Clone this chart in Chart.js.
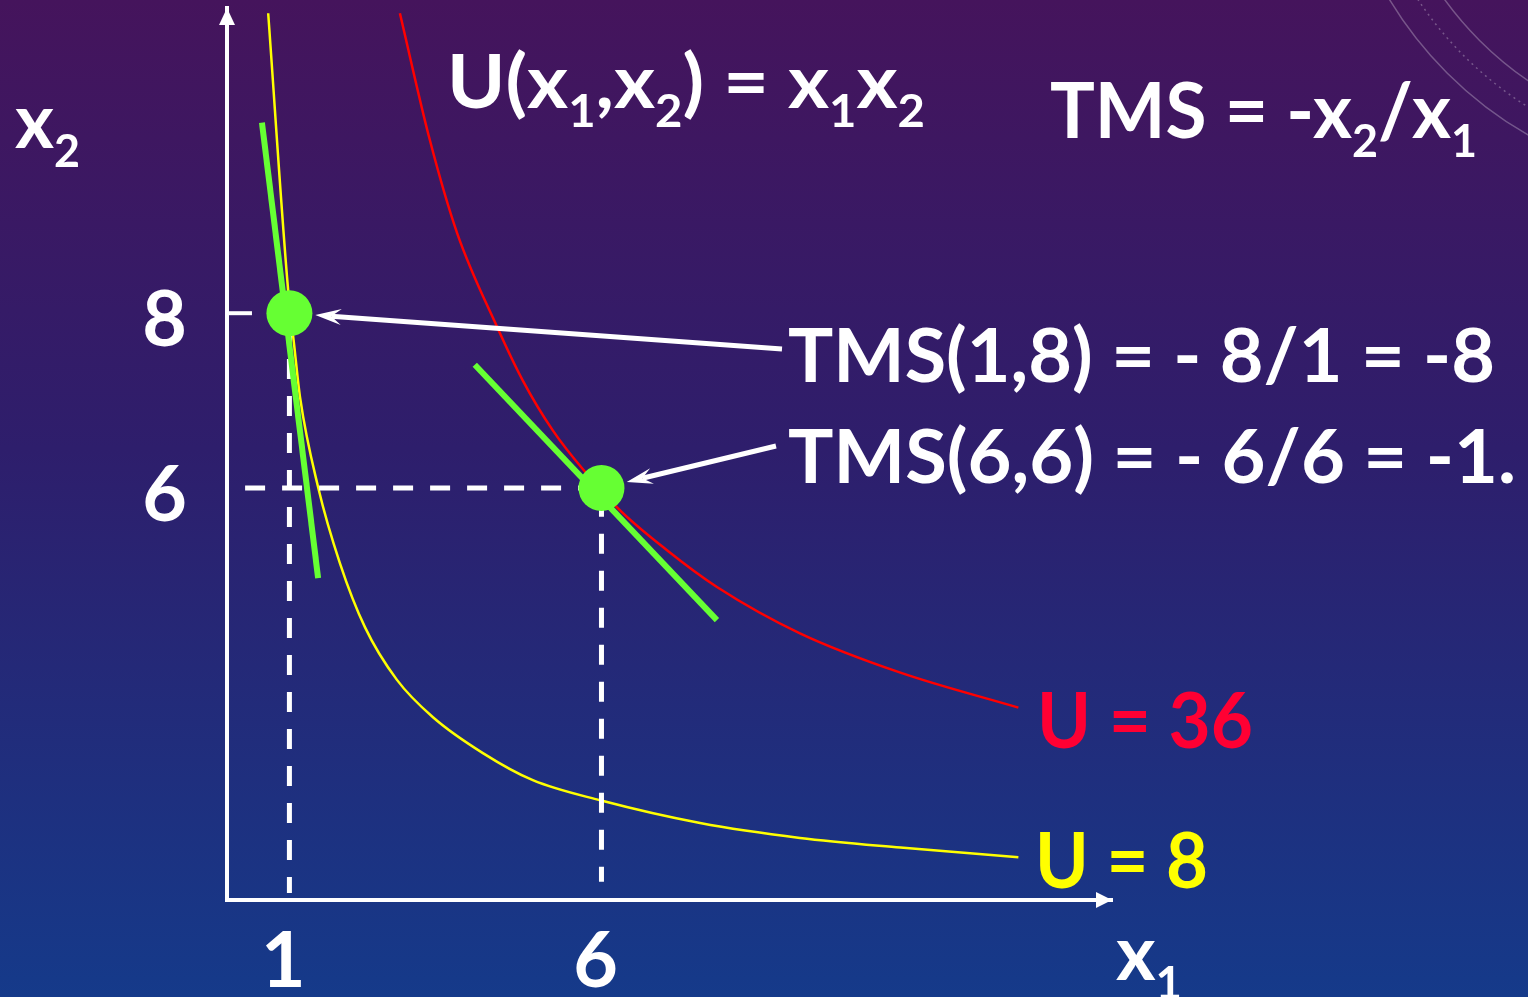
<!DOCTYPE html>
<html>
<head>
<meta charset="utf-8">
<script src="https://cdn.jsdelivr.net/npm/chart.js@4"></script>
<style>
  html, body { margin: 0; padding: 0; overflow: hidden; background: #2a2068; }
  #wrap { position: relative; width: 1528px; height: 997px; }
</style>
</head>
<body>
<div id="wrap"><canvas id="chart"></canvas></div>
<script>
// ---------------- DATA ----------------
const xTicks = [1, 6];
const yTicks = [6, 8];

// tangency points
const pointX = [1, 6];
const pointY = [8, 6];

// indifference curve U = 8
const u8X = [0.66, 0.98, 1.08, 1.17, 1.46, 1.81, 2.21, 2.72, 3.30, 4.10, 4.90, 5.98, 7.58, 9.18, 10.79, 12.68];
const u8Y = [11.43, 8.26, 7.61, 7.04, 6.01, 5.14, 4.41, 3.81, 3.38, 2.97, 2.66, 2.43, 2.17, 2.00, 1.89, 1.78];

// indifference curve U = 36
const u36X = [2.77, 3.25, 3.69, 4.33, 4.74, 5.22, 5.71, 6.00, 6.25, 7.05, 7.85, 9.18, 10.79, 12.68];
const u36Y = [11.43, 9.98, 8.91, 7.84, 7.23, 6.66, 6.21, 5.99, 5.78, 5.29, 4.87, 4.34, 3.89, 3.49];

// tangent segments
const tan1X = [0.56, 1.46];
const tan1Y = [10.18, 4.97];
const tan2X = [3.97, 7.85];
const tan2Y = [7.41, 4.49];

// dashed guides
const guideV1X = [1, 1];
const guideV1Y = [7.9, 1.37];
const guideHX = [0.29, 6];
const guideHY = [6, 6];
const guideV6X = [6, 6];
const guideV6Y = [5.9, 1.50];

// little tick on the y axis at 8
const tickMarkX = [0, 0.4];
const tickMarkY = [8, 8];

const xMin = 0, xMax = 14.18;
const yMin = 1.29, yMax = 11.49;

// texts
const titleText = 'U(x_1,x_2) = x_1x_2';
const tmsText = 'TMS = -x_2/x_1';
const tms18Text = 'TMS(1,8) = - 8/1 = -8';
const tms66Text = 'TMS(6,6) = - 6/6 = -1.';
const u36Text = 'U = 36';
const u8Text = 'U = 8';
const xAxisText = 'x_1';
const yAxisText = 'x_2';

// ---------------- HELPERS ----------------
function toPts(xs, ys) {
  return xs.map((x, i) => ({ x: x, y: ys[i] }));
}

function parseRich(str) {
  const parts = [];
  for (let i = 0; i < str.length; i++) {
    if (str[i] === '_') { parts.push({ t: str[i + 1], sub: true }); i++; }
    else {
      if (parts.length && !parts[parts.length - 1].sub) parts[parts.length - 1].t += str[i];
      else parts.push({ t: str[i], sub: false });
    }
  }
  return parts;
}

// draw text with subscripts, squeezed to the given width
function richText(ctx, str, x, base, size, color, width) {
  const parts = parseRich(str);
  ctx.save();
  ctx.fillStyle = color;
  ctx.textBaseline = 'alphabetic';
  ctx.textAlign = 'left';
  let total = 0;
  parts.forEach(p => {
    ctx.font = 'bold ' + (p.sub ? size * 0.6 : size) + 'px Lato';
    total += ctx.measureText(p.t).width;
  });
  ctx.translate(x, base);
  ctx.scale(width / total, 1);
  let cx = 0;
  parts.forEach(p => {
    ctx.font = 'bold ' + (p.sub ? size * 0.6 : size) + 'px Lato';
    ctx.fillText(p.t, cx, p.sub ? size * 0.25 : 0);
    cx += ctx.measureText(p.t).width;
  });
  ctx.restore();
}

function drawArrow(ctx, x1, y1, x2, y2) {
  const a = Math.atan2(y2 - y1, x2 - x1);
  const c = Math.cos(a), s = Math.sin(a);
  const L = 26, W = 8, N = 16;
  ctx.beginPath();
  ctx.moveTo(x1, y1);
  ctx.lineTo(x2 - N * c, y2 - N * s);
  ctx.stroke();
  ctx.beginPath();
  ctx.moveTo(x2, y2);
  ctx.lineTo(x2 - L * c + W * s, y2 - L * s - W * c);
  ctx.lineTo(x2 - N * c, y2 - N * s);
  ctx.lineTo(x2 - L * c - W * s, y2 - L * s + W * c);
  ctx.closePath();
  ctx.fill();
}

//---------------- PLUGIN: background, arrows, texts ----------------
const slidePlugin = {
  id: 'slide',
  beforeDraw(chart) {
    const ctx = chart.ctx;
    const w = chart.width, h = chart.height;
    const g = ctx.createLinearGradient(0, 0, 0, h);
    g.addColorStop(0, '#45145c');
    g.addColorStop(0.45, '#2e1e6c');
    g.addColorStop(1, '#153a8a');
    ctx.save();
    ctx.fillStyle = g;
    ctx.fillRect(0, 0, w, h);
    // faint compass rings in the top right corner
    ctx.strokeStyle = 'rgba(255,255,255,0.28)';
    ctx.lineWidth = 1.5;
    [386, 340].forEach(r => {
      ctx.beginPath();
      ctx.arc(1720, -200, r, 0, Math.PI * 2);
      ctx.stroke();
    });
    ctx.setLineDash([2, 4]);
    ctx.beginPath();
    ctx.arc(1720, -200, 362, 0, Math.PI * 2);
    ctx.stroke();
    ctx.restore();
  },
  afterDatasetsDraw(chart) {
    const ctx = chart.ctx;
    const xs = chart.scales.x, ys = chart.scales.y;
    const area = chart.chartArea;
    ctx.save();
    ctx.fillStyle = '#ffffff';
    ctx.strokeStyle = '#ffffff';
    // axis arrow heads
    ctx.beginPath();
    ctx.moveTo(area.left, area.top);
    ctx.lineTo(area.left - 8, area.top + 17);
    ctx.lineTo(area.left + 8, area.top + 17);
    ctx.closePath();
    ctx.fill();
    ctx.beginPath();
    ctx.moveTo(area.right, area.bottom);
    ctx.lineTo(area.right - 16, area.bottom - 8);
    ctx.lineTo(area.right - 16, area.bottom + 8);
    ctx.closePath();
    ctx.fill();
    // arrows from the labels to the points
    ctx.lineWidth = 5;
    const tails = [[782, 349], [776, 446]];
    tails.forEach((t, i) => {
      const px = xs.getPixelForValue(pointX[i]);
      const py = ys.getPixelForValue(pointY[i]);
      const dx = t[0] - px, dy = t[1] - py;
      const len = Math.sqrt(dx * dx + dy * dy);
      drawArrow(ctx, t[0], t[1], px + dx / len * 26, py + dy / len * 26);
    });
    ctx.restore();
  },
  afterDraw(chart) {
    const ctx = chart.ctx;
    richText(ctx, titleText, 447, 108, 75, '#ffffff', 478);
    richText(ctx, tmsText, 1050, 138, 77, '#ffffff', 427);
    richText(ctx, tms18Text, 788, 382, 75, '#ffffff', 707);
    richText(ctx, tms66Text, 788, 483, 75, '#ffffff', 728);
    richText(ctx, u36Text, 1037, 748, 77, '#ff0033', 216);
    richText(ctx, u8Text, 1035, 888, 77, '#ffff00', 173);
    richText(ctx, yAxisText, 15, 148, 77, '#ffffff', 65);
    richText(ctx, xAxisText, 1116, 980, 77, '#ffffff', 66);
  }
};

//---------------- CHART ----------------
const lineBase = { type: 'line', pointRadius: 0, fill: false, tension: 0 };

const chart = new Chart(document.getElementById('chart'), {
  type: 'line',
  data: {
    datasets: [
      {
        label: 'points', type: 'scatter', data: toPts(pointX, pointY),
        pointRadius: 23, pointBackgroundColor: '#66ff33', pointBorderWidth: 0,
        showLine: false, order: 0
      },
      Object.assign({}, lineBase, { label: 'tan1', data: toPts(tan1X, tan1Y), borderColor: '#66ff33', borderWidth: 6, order: 1 }),
      Object.assign({}, lineBase, { label: 'tan2', data: toPts(tan2X, tan2Y), borderColor: '#66ff33', borderWidth: 6, order: 1 }),
      Object.assign({}, lineBase, { label: 'v1', data: toPts(guideV1X, guideV1Y), borderColor: '#ffffff', borderWidth: 5, borderDash: [20, 17], order: 2 }),
      Object.assign({}, lineBase, { label: 'h6', data: toPts(guideHX, guideHY), borderColor: '#ffffff', borderWidth: 5, borderDash: [20, 17], order: 2 }),
      Object.assign({}, lineBase, { label: 'v6', data: toPts(guideV6X, guideV6Y), borderColor: '#ffffff', borderWidth: 5, borderDash: [20, 17], order: 2 }),
      Object.assign({}, lineBase, { label: 'U = 36', data: toPts(u36X, u36Y), borderColor: '#ff0000', borderWidth: 2.5, cubicInterpolationMode: 'monotone', order: 3 }),
      Object.assign({}, lineBase, { label: 'U = 8', data: toPts(u8X, u8Y), borderColor: '#ffff00', borderWidth: 2.5, cubicInterpolationMode: 'monotone', order: 3 }),
      Object.assign({}, lineBase, { label: 'tick', data: toPts(tickMarkX, tickMarkY), borderColor: '#ffffff', borderWidth: 4, order: 2 })
    ]
  },
  options: {
    responsive: true,
    maintainAspectRatio: false,
    animation: false,
    events: [],
    layout: { autoPadding: false, padding: { top: 8, right: 416, left: 0, bottom: 0 } },
    plugins: {
      legend: { display: false },
      tooltip: { enabled: false }
    },
    scales: {
      x: {
        type: 'linear',
        min: xMin,
        max: xMax,
        grid: { display: false, drawTicks: false },
        border: { display: true, color: '#ffffff', width: 4 },
        afterBuildTicks: s => { s.ticks = xTicks.map(v => ({ value: v })); },
        afterFit: s => { s.height = 97; s.paddingLeft = 0; s.paddingRight = 0; },
        ticks: {
          color: '#ffffff',
          padding: 24,
          labelOffset: -6,
          autoSkip: false,
          maxRotation: 0,
          font: { family: 'Lato', weight: 'bold', size: 77, lineHeight: 1 },
          callback: v => String(v)
        }
      },
      y: {
        type: 'linear',
        min: yMin,
        max: yMax,
        grid: { display: false, drawTicks: false },
        border: { display: true, color: '#ffffff', width: 4 },
        afterBuildTicks: s => { s.ticks = yTicks.map(v => ({ value: v })); },
        afterFit: s => { s.width = 227; s.paddingTop = 0; s.paddingBottom = 0; },
        ticks: {
          color: '#ffffff',
          padding: 40,
          labelOffset: 8,
          autoSkip: false,
          font: { family: 'Lato', weight: 'bold', size: 77, lineHeight: 1 },
          callback: v => String(v)
        }
      }
    }
  },
  plugins: [slidePlugin]
});
</script>
</body>
</html>
